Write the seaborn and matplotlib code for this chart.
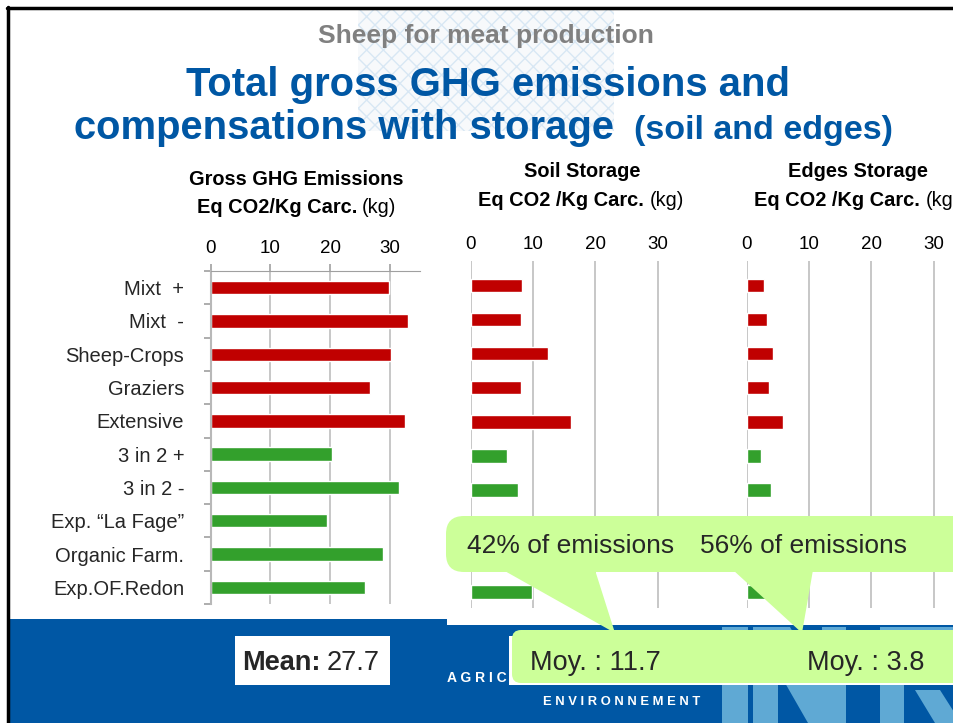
import numpy as np
import pandas as pd
import matplotlib.pyplot as plt
import matplotlib.patches as mpatches
import seaborn as sns

# data (kg eq CO2 / kg carcass)
systems = ['Mixt  +', 'Mixt  -', 'Sheep-Crops', 'Graziers', 'Extensive',
           '3 in 2 +', '3 in 2 -', 'Exp. \u201cLa Fage\u201d', 'Organic Farm.', 'Exp.OF.Redon']
groups = ['conv'] * 5 + ['grass'] * 5
gross = [29.8, 33.0, 30.1, 26.7, 32.5, 20.3, 31.5, 19.5, 28.8, 25.8]
soil = [8.2, 8.0, 12.4, 8.1, 16.1, 5.8, 7.5, 20.0, 21.0, 9.8]
edges = [2.7, 3.2, 4.2, 3.6, 5.8, 2.3, 3.9, 4.0, 4.3, 4.0]
ticks = [0, 10, 20, 30]

palette = {'conv': '#C00000', 'grass': '#33A02C'}
FONT = ['Liberation Sans', 'DejaVu Sans']
GRID = '#BEBEBE'
BLUE = '#0057A4'
LIGHT = '#5FA9D4'
W, H = 954, 723

sns.set_style('white')
plt.rcParams['font.family'] = FONT

df = pd.DataFrame({'system': systems, 'group': groups,
                   'gross': gross, 'soil': soil, 'edges': edges})

fig = plt.figure(figsize=(W / 100, H / 100), dpi=100)


def box(x0, y0, x1, y1):
    # pixel box (top-left origin) -> figure fraction rect
    return [x0 / W, 1 - y1 / H, (x1 - x0) / W, (y1 - y0) / H]


# background layer
bg = fig.add_axes([0, 0, 1, 1], zorder=-5)
bg.set_xlim(0, W)
bg.set_ylim(H, 0)
bg.axis('off')
bg.add_patch(mpatches.Rectangle((358, 9), 256, 122, facecolor='#F7F9FB', edgecolor='#D8E7F4',
                                hatch='xx', lw=0))
bg.add_patch(mpatches.Rectangle((8, 619), W, 110, facecolor=BLUE, lw=0))
bg.add_patch(mpatches.Rectangle((447, 619), W, 6, facecolor='white', lw=0))
# INRA logo letters (rough shapes)
bg.add_patch(mpatches.Rectangle((722, 627), 26, 100, facecolor=LIGHT, lw=0))
bg.add_patch(mpatches.Rectangle((753, 627), 25, 100, facecolor=LIGHT, lw=0))
bg.add_patch(mpatches.Polygon([(753, 627), (790, 627), (845, 723), (808, 723)], facecolor=LIGHT, lw=0))
bg.add_patch(mpatches.Rectangle((822, 627), 24, 100, facecolor=LIGHT, lw=0))
bg.add_patch(mpatches.Rectangle((880, 627), 24, 100, facecolor=LIGHT, lw=0))
bg.add_patch(mpatches.Polygon([(880, 627), (954, 627), (954, 660), (904, 660)], facecolor=LIGHT, lw=0))
bg.add_patch(mpatches.Polygon([(915, 690), (940, 690), (954, 712), (954, 723), (935, 723)],
                              facecolor=LIGHT, lw=0))
bg.text(447, 682, 'A G R I C', color='white', fontsize=10,
        fontweight='bold', va='baseline')
bg.text(543, 705, 'E N V I R O N N E M E N T', color='white', fontsize=9.4,
        fontweight='bold', va='baseline')
bg.plot([8, 8], [7, H], color='black', lw=2.5)
bg.plot([7, W], [8, 8], color='black', lw=2.5)

# three bar panels
ax1 = fig.add_axes(box(210.7, 271, 420, 604))
ax2 = fig.add_axes(box(471, 261, 688.7, 608))
ax3 = fig.add_axes(box(746.7, 261, 964.8, 608))

for ax, col in [(ax1, 'gross'), (ax2, 'soil'), (ax3, 'edges')]:
    sns.barplot(data=df, y='system', x=col, hue='group', palette=palette, dodge=False,
                width=0.4, orient='h', legend=False, ax=ax, saturation=1)
    ax.set_facecolor('none')
    ax.set_xlim(0, 35)
    ax.set_xticks(ticks)
    ax.xaxis.tick_top()
    ax.set_xlabel('')
    ax.set_ylabel('')
    ax.grid(axis='x', color=GRID, lw=1.2)
    ax.set_axisbelow(True)
    ax.tick_params(axis='x', labelsize=13.5, colors='#A0A0A0', labelcolor='black')
    for s in ax.spines.values():
        s.set_visible(False)

ax1.set_ylim(9.5, -0.5)
ax1.tick_params(axis='x', length=5, width=1.2, pad=5)
ax1.tick_params(axis='y', which='major', length=0, pad=19, labelsize=14.5)
ax1.set_yticks(np.arange(-0.5, 10, 1), minor=True)
ax1.tick_params(axis='y', which='minor', length=5, width=1.2, color='#A0A0A0', left=True)
ax1.spines['top'].set_visible(True)
ax1.spines['left'].set_visible(True)
ax1.spines['top'].set_color('#A0A0A0')
ax1.spines['left'].set_color('#B8B8B8')
ax1.spines['left'].set_linewidth(1.5)

for ax in (ax2, ax3):
    ax.set_ylim(9.47, -0.72)
    ax.tick_params(axis='x', length=0, pad=6)
    ax.set_yticks([])

# foreground layer: titles and callouts
fg = fig.add_axes([0, 0, 1, 1], zorder=10)
fg.set_xlim(0, W)
fg.set_ylim(H, 0)
fg.axis('off')
fg.patch.set_alpha(0)

fg.text(486, 43, 'Sheep for meat production', color='#808080', fontsize=19,
        fontweight='bold', ha='center', va='baseline')
fg.text(488, 96, 'Total gross GHG emissions and', color=BLUE, fontsize=28.8,
        fontweight='bold', ha='center', va='baseline')
fg.text(614, 139, 'compensations with storage', color=BLUE, fontsize=28.8,
        fontweight='bold', ha='right', va='baseline')
fg.text(634, 139, '(soil and edges)', color=BLUE, fontsize=24.5,
        fontweight='bold', ha='left', va='baseline')

head = dict(fontsize=14.4, color='black', va='baseline')
fg.text(296, 185, 'Gross GHG Emissions', ha='center', fontweight='bold', **head)
fg.text(357, 213, 'Eq CO2/Kg Carc.', ha='right', fontweight='bold', **head)
fg.text(362, 213, '(kg)', ha='left', **head)
fg.text(582, 177, 'Soil Storage', ha='center', fontweight='bold', **head)
fg.text(644, 206, 'Eq CO2 /Kg Carc.', ha='right', fontweight='bold', **head)
fg.text(650, 206, '(kg)', ha='left', **head)
fg.text(858, 177, 'Edges Storage', ha='center', fontweight='bold', **head)
fg.text(920, 206, 'Eq CO2 /Kg Carc.', ha='right', fontweight='bold', **head)
fg.text(926, 206, '(kg)', ha='left', **head)

# mean box
fg.add_patch(mpatches.Rectangle((235, 636), 155, 49, facecolor='white', lw=0))
fg.text(321, 670, 'Mean:', ha='right', fontweight='bold', fontsize=19.5, va='baseline')
fg.text(327, 670, '27.7', ha='left', fontsize=19.5, va='baseline')

# callouts
LIME = '#CCFF99'
fg.add_patch(mpatches.Rectangle((509, 636), 450, 49, facecolor='white', lw=0))
fg.add_patch(mpatches.FancyBboxPatch((518, 636), 450, 41, boxstyle='round,pad=6,rounding_size=9',
                                     facecolor=LIME, edgecolor='none'))
fg.add_patch(mpatches.FancyBboxPatch((455, 525), 520, 38, boxstyle='round,pad=9,rounding_size=18',
                                     facecolor=LIME, edgecolor='none'))
fg.add_patch(mpatches.Polygon([(503, 570), (595, 570), (615, 633)], facecolor=LIME, lw=0))
fg.add_patch(mpatches.Polygon([(733, 570), (813, 570), (802, 633)], facecolor=LIME, lw=0))
fg.text(467, 553, '42% of emissions', fontsize=19, va='baseline')
fg.text(700, 553, '56% of emissions', fontsize=19, va='baseline')
fg.text(530, 670, 'Moy. : 11.7', fontsize=19.5, va='baseline')
fg.text(807, 670, 'Moy. : 3.8', fontsize=19.5, va='baseline')

fig.savefig('out.png', dpi=100)
